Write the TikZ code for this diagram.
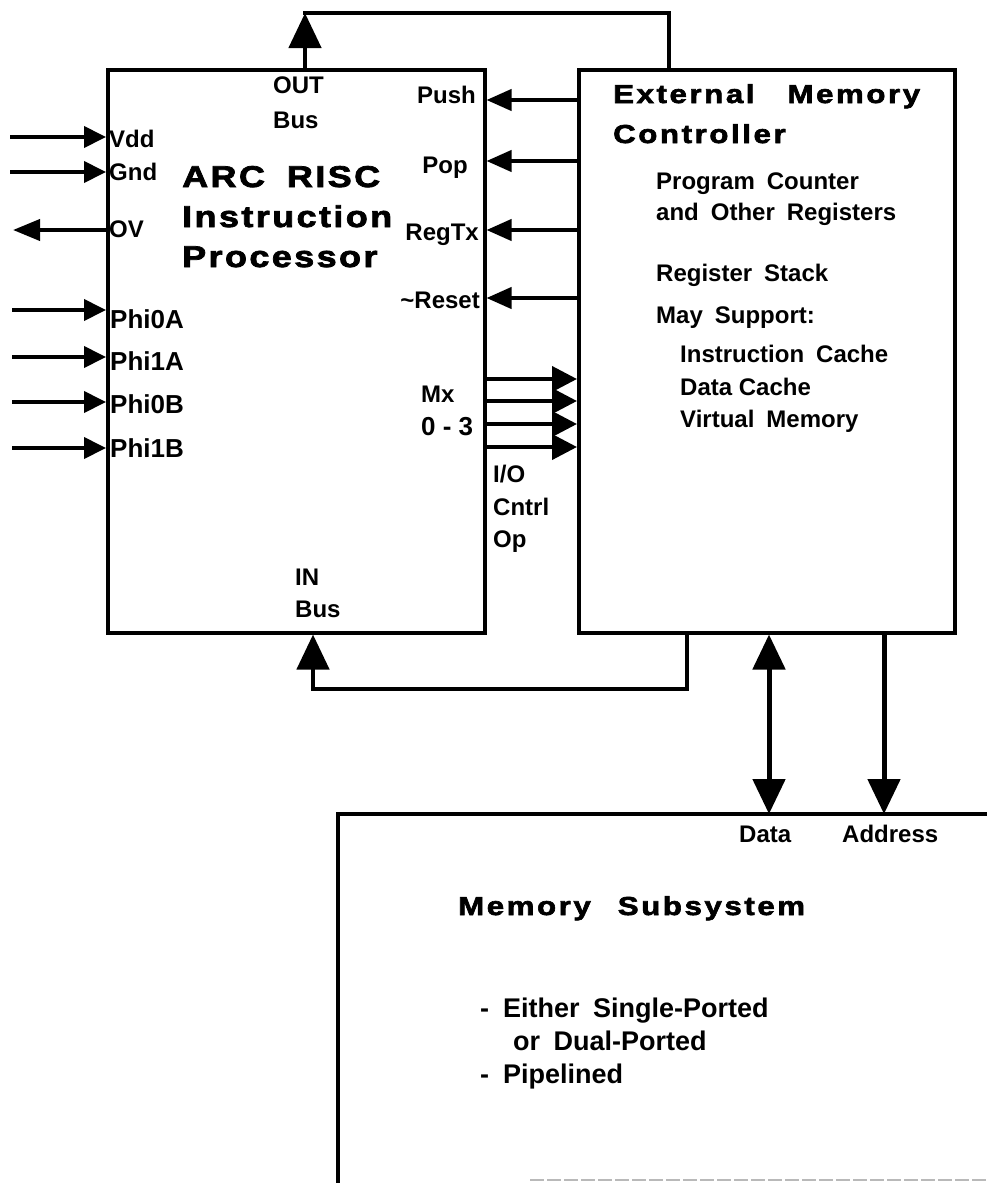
\documentclass[tikz,border=0pt]{standalone}
\usepackage{fontspec}
\setmainfont{Liberation Sans}
\newfontfamily\bodyfont[WordSpace=1.8]{Liberation Sans}
\newfontfamily\titlefontA[FakeStretch=1.2,LetterSpace=8,FakeBold=2.5]{Liberation Sans}
\newfontfamily\titlefontB[FakeStretch=1.2,LetterSpace=10,FakeBold=2.5]{Liberation Sans}
\usetikzlibrary{arrows.meta}
\tikzset{
  box/.style={draw, line width=3.5pt, rectangle, inner sep=0pt, anchor=north west},
  lbl/.style={inner sep=0pt, anchor=base west, font=\fontsize{24}{28}\selectfont\bfseries},
  lble/.style={lbl, anchor=base east},
  lblb/.style={lbl, font=\fontsize{26}{30}\selectfont\bfseries},
  body/.style={lbl, font=\bodyfont\fontsize{24}{28}\selectfont\bfseries},
  bullet/.style={lbl, font=\bodyfont\fontsize{27}{31}\selectfont\bfseries},
  titleA/.style={lbl, font=\titlefontA\fontsize{30}{34}\selectfont\bfseries},
  titleB/.style={lbl, font=\titlefontB\fontsize{26}{30}\selectfont\bfseries},
  pin/.style={line width=4pt, -{Triangle[length=22pt,width=21pt]}},
  pinout/.style={line width=4pt, -{Triangle[length=27pt,width=21pt]}},
  ctl/.style={line width=4pt, -{Triangle[length=25pt,width=21pt]}},
  mx/.style={line width=4pt, -{Triangle[length=25pt,width=25pt]}},
  bus/.style={line width=4.5pt},
  bigtip/.style={-{Triangle[length=35pt,width=32pt]}},
  bothtip/.style={{Triangle[length=35pt,width=32pt]}-{Triangle[length=35pt,width=32pt]}},
  frame/.style={line width=3.5pt},
}
\begin{document}
\begin{tikzpicture}[x=1pt,y=-1pt]
\useasboundingbox (0,0) rectangle (987,1183);

% boxes
\node[box, minimum width=377pt, minimum height=563pt] (proc) at (106,68) {};
\node[box, minimum width=376pt, minimum height=563pt] (emc) at (577,68) {};

% memory subsystem (open box)
\coordinate (memBL) at (338,1183);
\coordinate (memTL) at (338,814);
\coordinate (memTR) at (987,814);
\draw[frame, line cap=rect] (memBL) -- (memTL) -- (memTR);
\coordinate (memB1) at (530,1180);
\coordinate (memB2) at (987,1180);
\draw[gray!55, line width=1.5pt, dash pattern=on 14pt off 3pt] (memB1) -- (memB2);

% left pins
\coordinate (vdd) at (10,137);
\coordinate (gnd) at (10,172);
\coordinate (ov) at (13,230);
\coordinate (p0a) at (12,310);
\coordinate (p1a) at (12,357);
\coordinate (p0b) at (12,402);
\coordinate (p1b) at (12,448);
\draw[pin] (vdd) -- (proc.west |- vdd);
\draw[pin] (gnd) -- (proc.west |- gnd);
\draw[pinout] (proc.west |- ov) -- (ov);
\draw[pin] (p0a) -- (proc.west |- p0a);
\draw[pin] (p1a) -- (proc.west |- p1a);
\draw[pin] (p0b) -- (proc.west |- p0b);
\draw[pin] (p1b) -- (proc.west |- p1b);

% control lines from controller to processor
\coordinate (push) at (0,100);
\coordinate (pop) at (0,161);
\coordinate (regtx) at (0,230);
\coordinate (reset) at (0,298);
\draw[ctl] (emc.west |- push) -- (proc.east |- push);
\draw[ctl] (emc.west |- pop) -- (proc.east |- pop);
\draw[ctl] (emc.west |- regtx) -- (proc.east |- regtx);
\draw[ctl] (emc.west |- reset) -- (proc.east |- reset);

% Mx 0-3
\coordinate (mx0) at (0,379);
\coordinate (mx1) at (0,401);
\coordinate (mx2) at (0,424);
\coordinate (mx3) at (0,447);
\draw[mx] (proc.east |- mx0) -- (emc.west |- mx0);
\draw[mx] (proc.east |- mx1) -- (emc.west |- mx1);
\draw[mx] (proc.east |- mx2) -- (emc.west |- mx2);
\draw[mx] (proc.east |- mx3) -- (emc.west |- mx3);

% OUT bus
\coordinate (outT) at (305,13);
\coordinate (outR) at (669,13);
\draw[bus, bigtip] (proc.north -| outT) -- (outT);
\draw[bus, line cap=rect] (outT) -- (outR) -- (emc.north -| outR);

% IN bus
\coordinate (inR) at (687,689);
\coordinate (inL) at (313,689);
\draw[bus, bigtip] (emc.south -| inR) -- (inR) -- (inL) -- (proc.south -| inL);

% Data and Address
\coordinate (dataX) at (769,0);
\coordinate (addrX) at (884,0);
\draw[line width=5pt, bothtip] (emc.south -| dataX) -- (memTL -| dataX);
\draw[line width=5pt, bigtip] (emc.south -| addrX) -- (memTL -| addrX);

% processor texts
\node[titleA] (arc1) at (182,187) {ARC\hspace{22pt}RISC};
\node[titleA] (arc2) at (182,227) {Instruction};
\node[titleA] (arc3) at (182,267) {Processor};
\node[lbl] (outl) at (273,93) {OUT};
\node[lbl] (outb) at (273,128) {Bus};
\node[lbl] (inl) at (295,585) {IN};
\node[lbl] (inb) at (295,617) {Bus};
\node[lbl] (vddl) at (109,147) {Vdd};
\node[lbl] (gndl) at (109,180) {Gnd};
\node[lbl] (ovl) at (109,237) {OV};
\node[lblb] (p0al) at (110,328) {Phi0A};
\node[lblb] (p1al) at (110,370) {Phi1A};
\node[lblb] (p0bl) at (110,413) {Phi0B};
\node[lblb] (p1bl) at (110,457) {Phi1B};
\node[lble] (pushl) at (476,103) {Push};
\node[lble] (popl) at (468,173) {Pop};
\node[lble] (regtxl) at (479,240) {RegTx};
\node[lble] (resetl) at (480,308) {\textasciitilde Reset};
\node[lbl] (mxl) at (421,402) {Mx};
\node[lblb] (mxn) at (421,435) {0 - 3};
\node[lbl] (io1) at (493,482) {I/O};
\node[lbl] (io2) at (493,515) {Cntrl};
\node[lbl] (io3) at (493,547) {Op};

% controller texts
\node[titleB] (ext1) at (613,103) {External\hspace{33pt}Memory};
\node[titleB] (ext2) at (613,143) {Controller};
\node[body] (c1) at (656,189) {Program Counter};
\node[body] (c2) at (656,220) {and Other Registers};
\node[body] (c3) at (656,281) {Register Stack};
\node[body] (c4) at (656,323) {May Support:};
\node[body] (c5) at (680,362) {Instruction Cache};
\node[lbl] (c6) at (680,395) {Data Cache};
\node[body] (c7) at (680,427) {Virtual Memory};

% memory texts
\node[lbl] (datal) at (739,842) {Data};
\node[lbl] (addrl) at (842,842) {Address};
\node[titleB] (memt) at (458,915) {Memory\hspace{27pt}Subsystem};
\node[bullet] (b1) at (480,1017) {-\hspace{14pt}Either Single-Ported};
\node[bullet] (b2) at (513,1050) {or Dual-Ported};
\node[bullet] (b3) at (480,1083) {-\hspace{14pt}Pipelined};
\end{tikzpicture}
\end{document}
